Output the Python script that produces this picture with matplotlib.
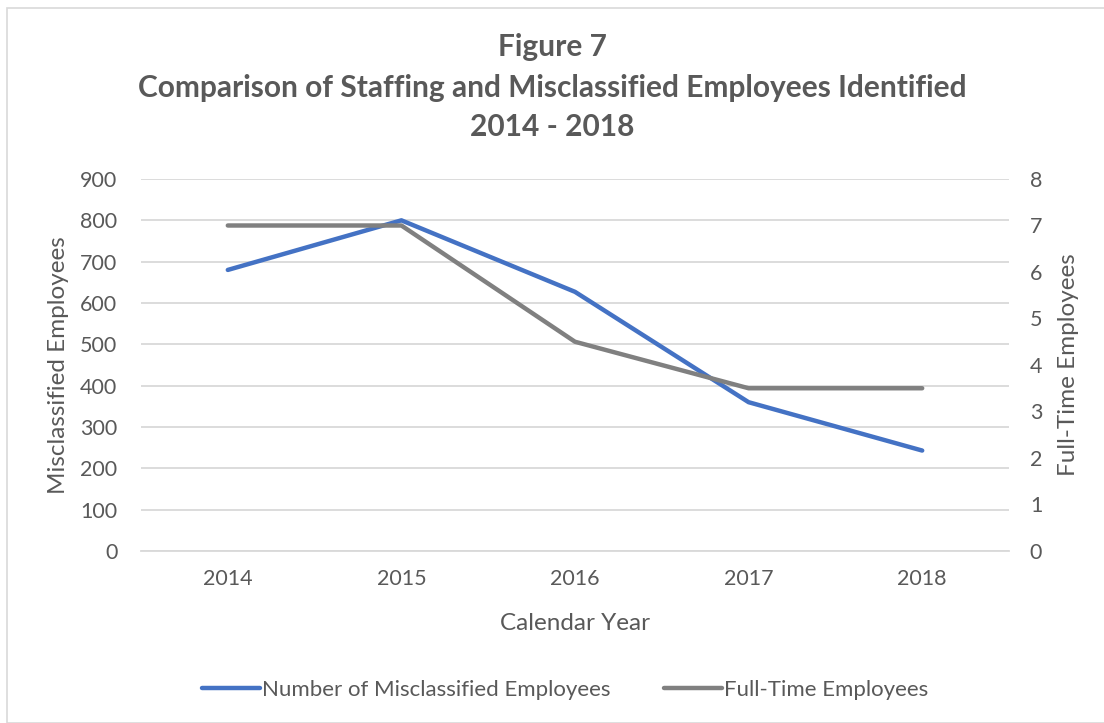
import matplotlib.pyplot as plt
from matplotlib.patches import Rectangle

plt.rcParams['font.family'] = ['Lato', 'DejaVu Sans']

# data
years = ['2014', '2015', '2016', '2017', '2018']
misclassified = [680, 800, 627, 360, 243]
full_time = [7, 7, 4.5, 3.5, 3.5]

txt = '#595959'
blue = '#4472C4'
grey = '#808080'

fig = plt.figure(figsize=(11.04, 7.23), dpi=100)
W, H = 1104, 723

# chart area border
fig.patches.append(Rectangle((7 / W, 0), 1.2, 1 - 8 / H, transform=fig.transFigure,
                             fill=False, edgecolor='#D9D9D9', linewidth=1.2))

ax = fig.add_axes([141 / W, 1 - 551 / H, (1009 - 141) / W, (551 - 179) / H])
ax2 = ax.twinx()

x = list(range(len(years)))
l1, = ax.plot(x, misclassified, color=blue, linewidth=3.2, solid_capstyle='round',
              label='Number of Misclassified Employees', zorder=3)
l2, = ax2.plot(x, full_time, color=grey, linewidth=3.2, solid_capstyle='round',
               label='Full-Time Employees', zorder=3)

ax.set_xlim(-0.5, 4.5)
ax.set_ylim(0, 900)
ax.set_yticks(range(0, 901, 100))
ax2.set_ylim(0, 8)
ax2.set_yticks(range(0, 9))
ax.set_xticks(x)
ax.set_xticklabels(years)

ax.grid(axis='y', color='#D9D9D9', linewidth=1.3)
ax.set_axisbelow(True)
for a in (ax, ax2):
    for s in a.spines.values():
        s.set_visible(False)
ax.spines['bottom'].set_visible(True)
ax.spines['bottom'].set_color('#D9D9D9')
ax.spines['bottom'].set_linewidth(1.3)

ax.tick_params(axis='y', length=0, pad=17, labelsize=15.5, labelcolor=txt)
ax2.tick_params(axis='y', length=0, pad=15, labelsize=15.5, labelcolor=txt)
ax.tick_params(axis='x', length=0, pad=13, labelsize=15.5, labelcolor=txt)

ax.set_ylabel('Misclassified Employees', fontsize=17.5, color=txt, labelpad=8)
ax2.set_ylabel('Full-Time Employees', fontsize=17.5, color=txt, labelpad=11)
ax.set_xlabel('Calendar Year', fontsize=17.5, color=txt, labelpad=17)

fig.text(0.5, 1 - 47 / H, 'Figure 7', ha='center', va='center',
         fontsize=21.5, fontweight='bold', color=txt)
fig.text(0.5, 1 - 88 / H, 'Comparison of Staffing and Misclassified Employees Identified',
         ha='center', va='center', fontsize=21.5, fontweight='bold', color=txt)
fig.text(0.5, 1 - 127 / H, '2014 - 2018', ha='center', va='center',
         fontsize=21.5, fontweight='bold', color=txt)

leg = fig.legend(handles=[l1, l2], loc='center', bbox_to_anchor=(565 / W, 1 - 690 / H),
                 ncol=2, frameon=False, fontsize=16, handlelength=2.6,
                 handletextpad=0.1, columnspacing=2.4)
for t in leg.get_texts():
    t.set_color(txt)

fig.savefig('out.png', dpi=100)
